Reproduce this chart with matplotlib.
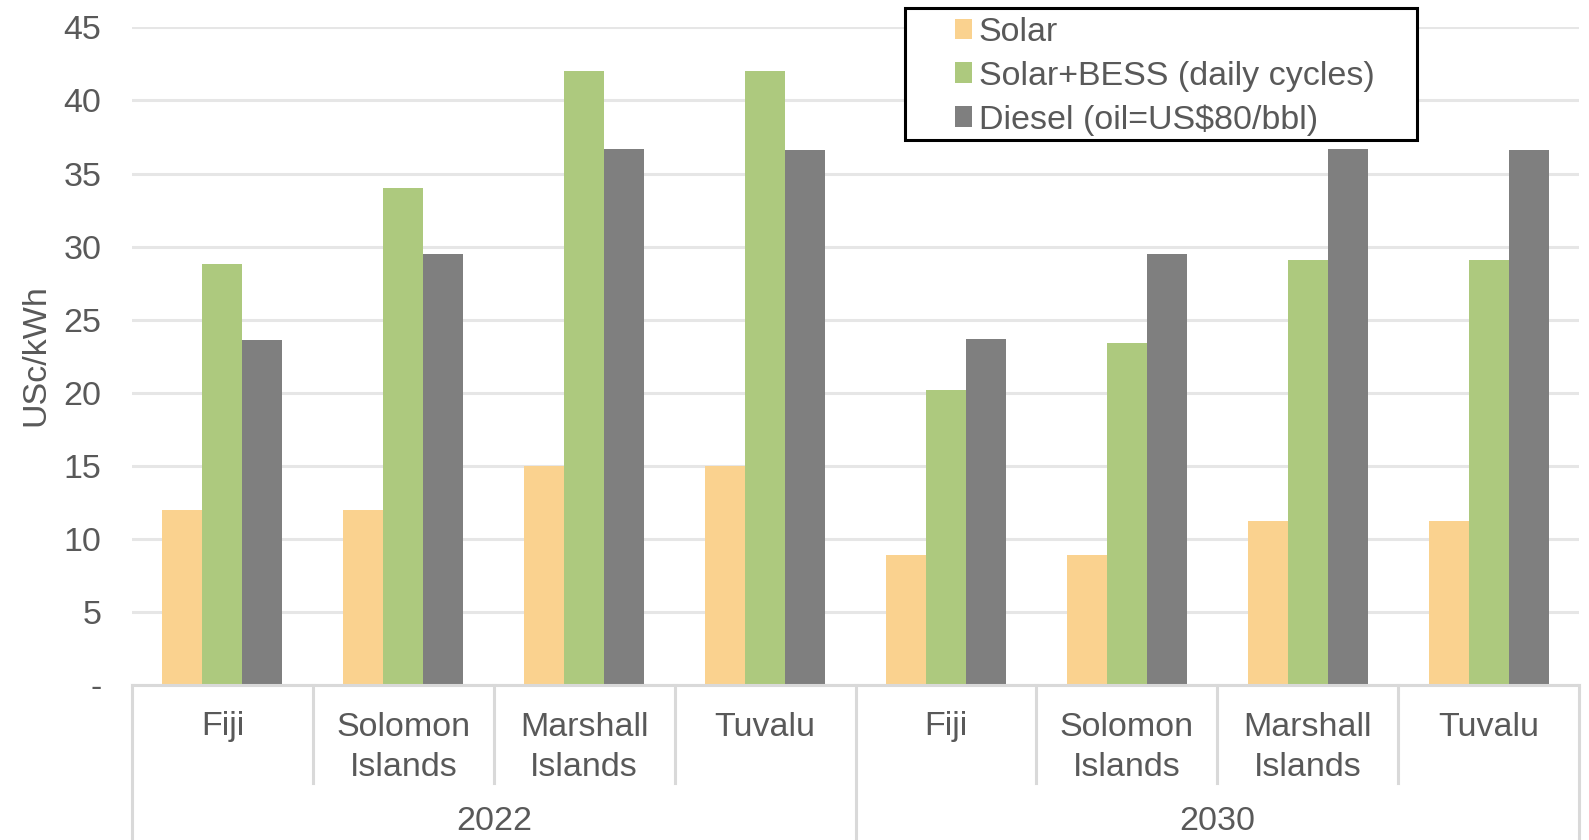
import matplotlib
matplotlib.use("Agg")
import matplotlib.pyplot as plt
from matplotlib.lines import Line2D
from matplotlib.patches import Patch, Rectangle
import numpy as np

plt.rcParams['font.family'] = ['Liberation Sans', 'DejaVu Sans']

years = ["2022", "2030"]
countries = ["Fiji", "Solomon\nIslands", "Marshall\nIslands", "Tuvalu"]
series_names = ["Solar", "Solar+BESS (daily cycles)", "Diesel (oil=US$80/bbl)"]
solar = [12, 12, 15, 15, 8.9, 8.9, 11.2, 11.2]
solar_bess = [28.8, 34, 42, 42, 20.2, 23.4, 29.1, 29.1]
diesel = [23.6, 29.5, 36.7, 36.6, 23.7, 29.5, 36.7, 36.6]
yticks = [0, 5, 10, 15, 20, 25, 30, 35, 40, 45]
ytick_labels = ["-", "5", "10", "15", "20", "25", "30", "35", "40", "45"]

colors = ["#FAD28F", "#ADC97E", "#7F7F7F"]
text_color = "#595959"
FS = 24.5
W, H = 1589, 840
fig = plt.figure(figsize=(W / 100, H / 100), dpi=100)
left, right, bottom, top = 132, 1579, 685, 27.4
ax = fig.add_axes([left / W, 1 - bottom / H, (right - left) / W, (bottom - top) / H])

n = len(solar)
x = np.arange(n)
bw = 0.221
for k, (vals, c) in enumerate(zip([solar, solar_bess, diesel], colors)):
    ax.bar(x + (k - 1) * bw, vals, width=bw, color=c, zorder=3, linewidth=0)

ax.set_xlim(-0.5, n - 0.5)
ax.set_ylim(0, 45)
ax.set_yticks(yticks)
ax.set_yticklabels(ytick_labels)
ax.tick_params(axis='y', length=0, pad=22, labelsize=FS, labelcolor=text_color)
ax.set_xticks([])
for s in ax.spines.values():
    s.set_visible(False)
ax.grid(axis='y', color="#E6E6E6", linewidth=2.2, zorder=0)
ax.axhline(0, color="#D9D9D9", linewidth=2.2, zorder=4, clip_on=False)


def fy(py):
    return 1 - py / H


trans = matplotlib.transforms.blended_transform_factory(ax.transData, fig.transFigure)
labels_all = countries * len(years)
for i, lab in enumerate(labels_all):
    for j, line in enumerate(lab.split("\n")):
        fig.text(x[i], fy(727 + 40 * j), line, transform=trans, ha='center', va='center',
                 fontsize=FS, color=text_color)
ng = len(countries)
for g, yr in enumerate(years):
    cx = g * ng + (ng - 1) / 2
    fig.text(cx, fy(822), yr, transform=trans, ha='center', va='center',
             fontsize=FS, color=text_color)
for b in range(n + 1):
    xb = b - 0.5
    y1 = 0.0 if b % ng == 0 else fy(783)
    fig.add_artist(Line2D([xb, xb], [fy(685), y1], transform=trans,
                          color="#D9D9D9", linewidth=2.2))

fig.text(35.5 / W, fy(355), "USc/kWh", rotation=90, ha='center', va='center',
         fontsize=FS, color=text_color)

# legend
fig.add_artist(Rectangle((905 / W, fy(140)), (1417 - 905) / W, (140 - 8) / H,
                         transform=fig.transFigure, facecolor='white',
                         edgecolor='black', linewidth=2.2, zorder=5))
handles = [Patch(facecolor=c, edgecolor='none') for c in colors]
leg = fig.legend(handles, series_names, loc='upper left',
                 bbox_to_anchor=(955 / W, fy(17)), fontsize=FS, frameon=False,
                 handlelength=0.5, handleheight=0.55,
                 handletextpad=0.2, labelspacing=0.37, borderpad=0, borderaxespad=0)
leg.set_zorder(6)
for t in leg.get_texts():
    t.set_color(text_color)

fig.savefig("out.png", dpi=100)
